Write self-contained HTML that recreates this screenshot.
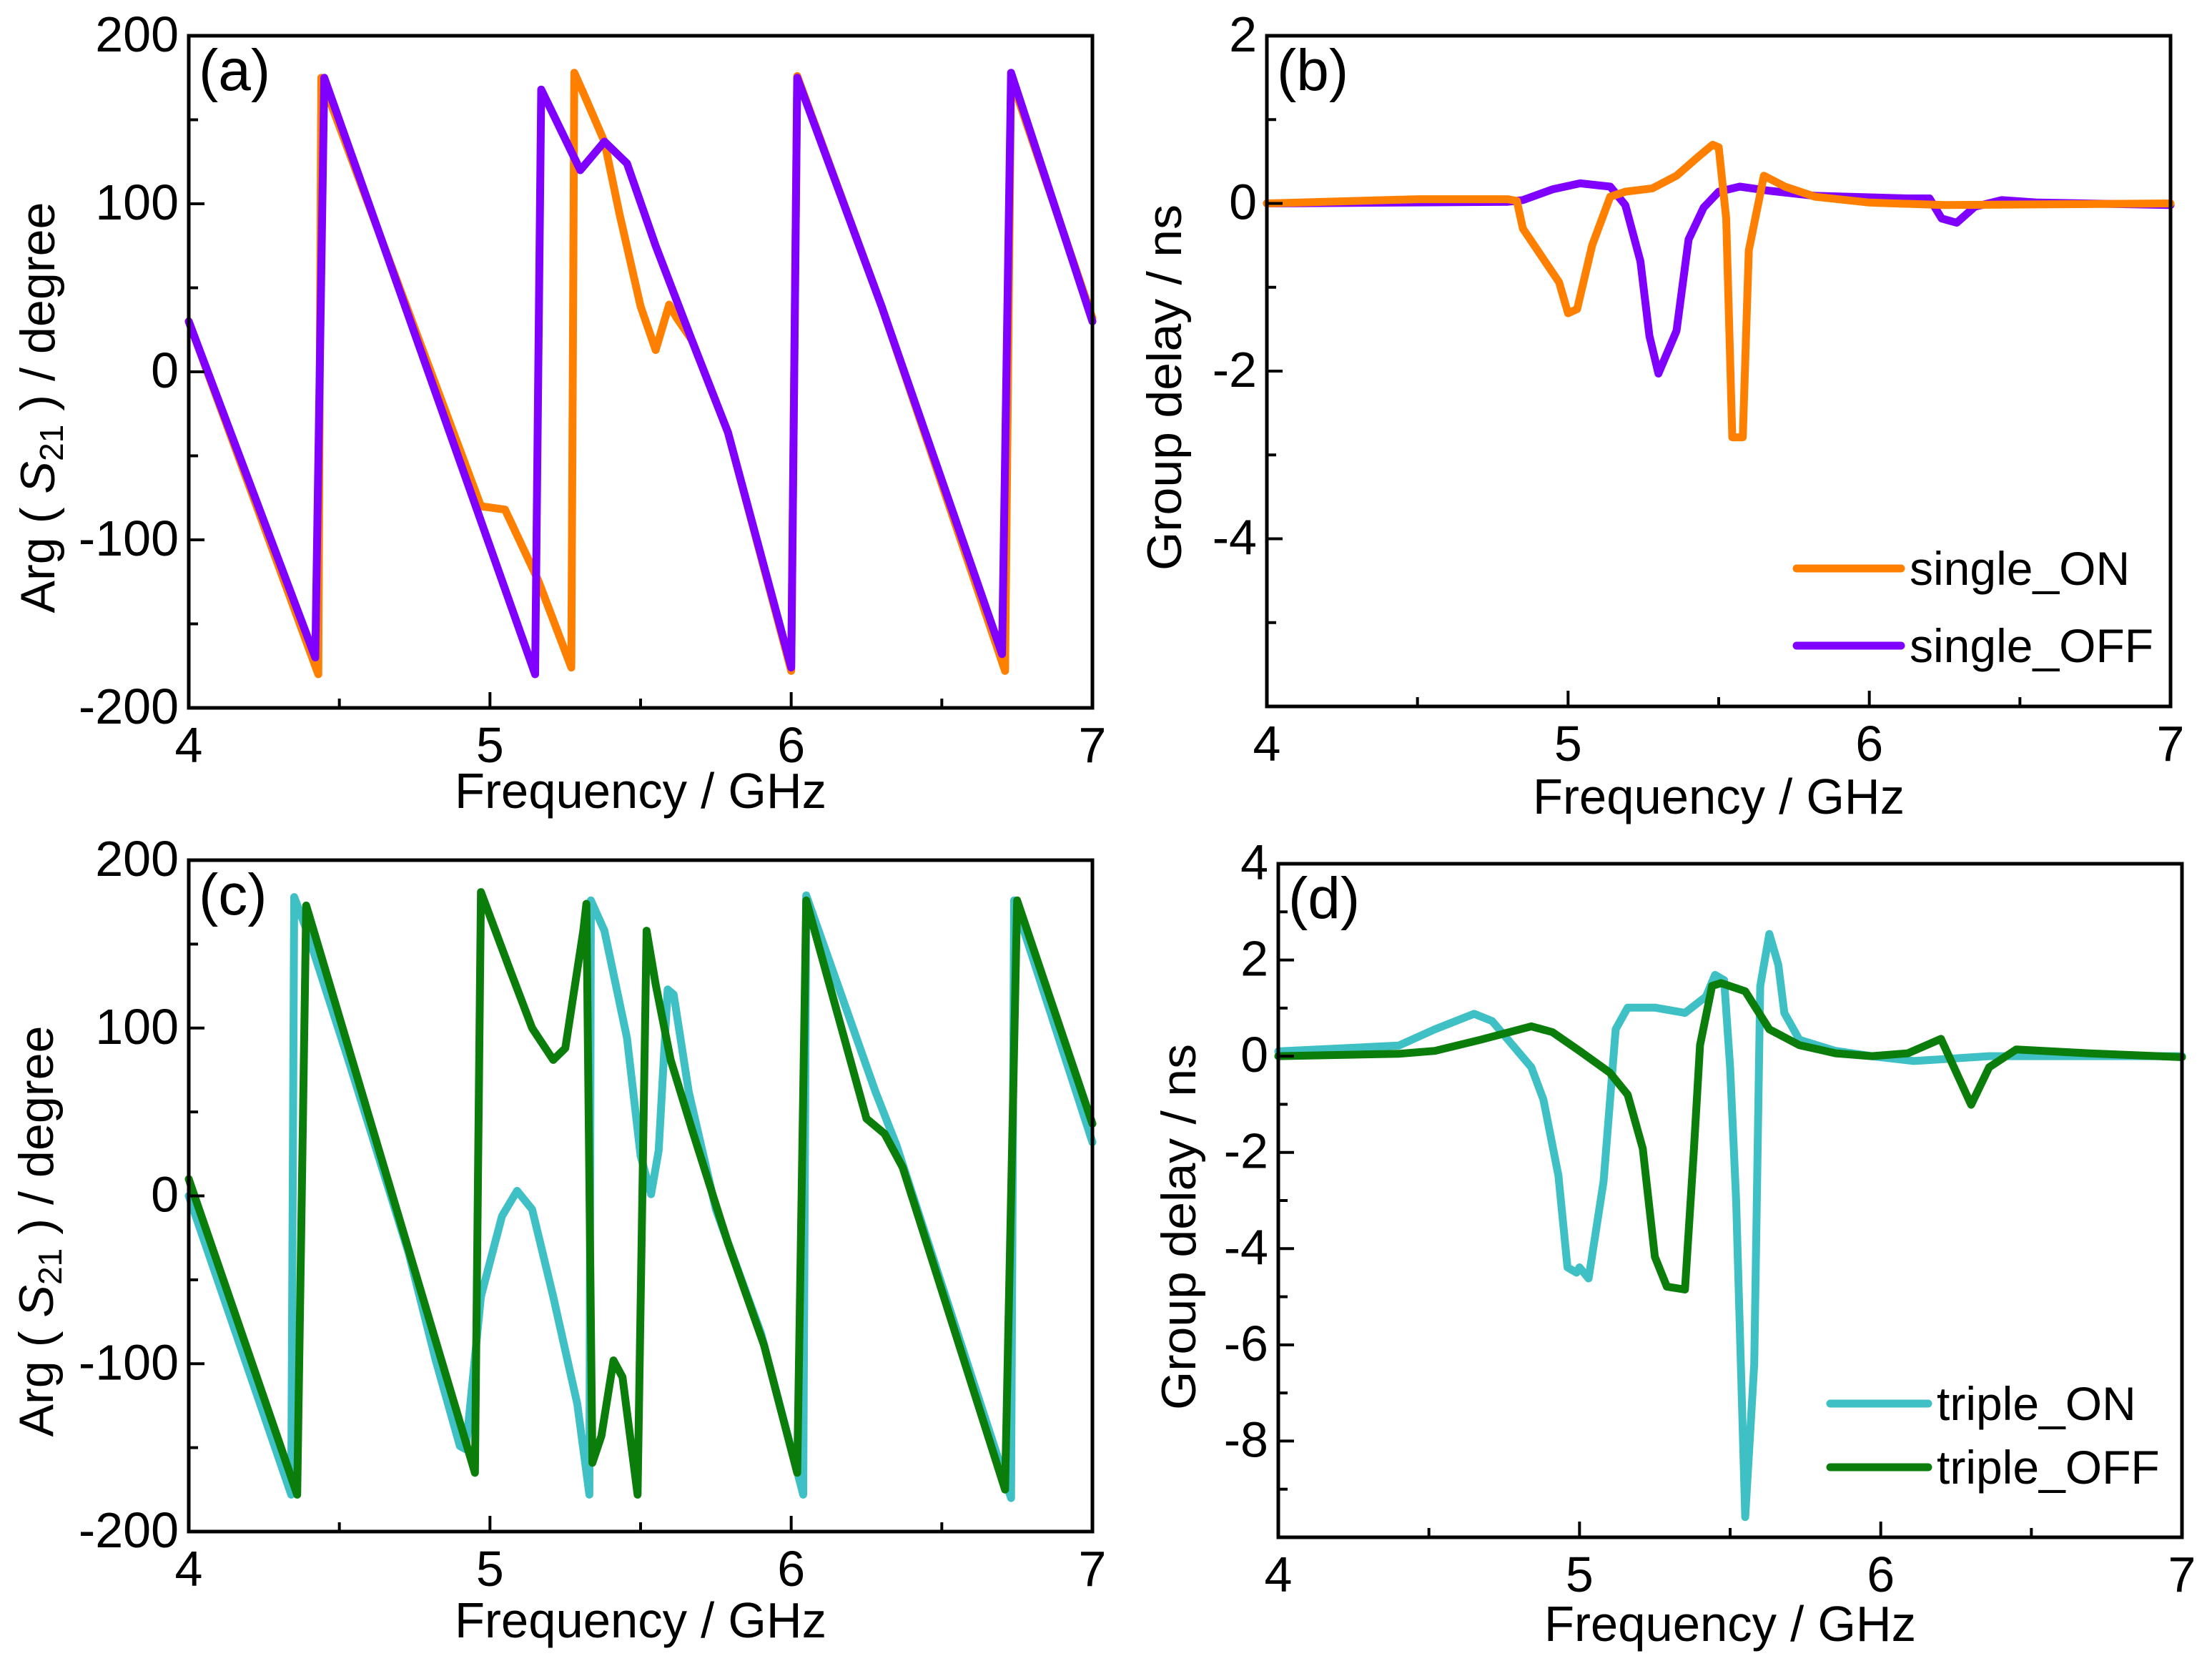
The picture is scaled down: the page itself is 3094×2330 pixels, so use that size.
<!DOCTYPE html>
<html><head><meta charset="utf-8"><style>
html,body{margin:0;padding:0;background:#fff}
svg{display:block}
text{font-family:"Liberation Sans",sans-serif;fill:#000}
</style></head><body>
<svg id="fig" width="3094" height="2330" viewBox="0 0 3094 2330" xmlns="http://www.w3.org/2000/svg"></svg>
<script>
// ---- data (frequency GHz, value) ----
const aOnX  = [4,4.43,4.44,4.97,5.05,5.16,5.27,5.28,5.31,5.38,5.43,5.50,5.55,5.595,5.62,5.67,5.79,6.0,6.02,6.30,6.71,6.73,7];
const aOnY  = [30,-180,175,-80,-82,-124,-176,178,166,137,94,39,13,40,32,19,-36,-178,176,39,-178,175,32];
const aOffX = [4,4.42,4.45,5.15,5.17,5.30,5.38,5.455,5.55,5.67,5.79,6.0,6.02,6.30,6.70,6.73,7];
const aOffY = [30,-170,175,-180,168,120,137,124,75,19,-36,-176,175,39,-168,178,30];

const bOnX  = [4,4.5,4.8,4.83,4.85,4.97,5.0,5.03,5.08,5.14,5.19,5.28,5.36,5.43,5.48,5.50,5.525,5.545,5.58,5.60,5.65,5.72,5.82,6.0,6.25,7];
const bOnY  = [0,0.05,0.05,0.03,-0.3,-0.94,-1.31,-1.26,-0.5,0.08,0.14,0.18,0.33,0.55,0.70,0.67,-0.18,-2.79,-2.79,-0.56,0.33,0.2,0.08,0.01,-0.02,0];
const bOffX = [4,4.8,4.85,4.95,5.04,5.14,5.19,5.24,5.27,5.30,5.36,5.40,5.45,5.50,5.57,5.67,5.82,6.13,6.2,6.24,6.29,6.35,6.44,6.56,7];
const bOffY = [0,0.02,0.04,0.17,0.24,0.2,-0.02,-0.69,-1.58,-2.03,-1.52,-0.43,-0.05,0.14,0.2,0.15,0.09,0.06,0.06,-0.18,-0.23,-0.04,0.04,0.01,-0.02];

const cOnX  = [4,4.34,4.35,4.39,4.53,4.73,4.82,4.90,4.92,4.97,5.04,5.09,5.14,5.21,5.29,5.33,5.335,5.38,5.455,5.50,5.535,5.56,5.59,5.61,5.66,5.75,5.90,6.04,6.05,6.28,6.35,6.73,6.74,7];
const cOnY  = [0,-178,178,159,81,-34,-98,-149,-151,-60,-12,3,-8,-60,-124,-178,176,158,94,24,1,27,123,120,62,-8,-82,-178,179,62,30,-180,176,32];
const cOffX = [4,4.36,4.39,4.95,4.97,5.07,5.14,5.21,5.25,5.31,5.32,5.34,5.37,5.41,5.44,5.49,5.52,5.55,5.60,5.67,5.79,5.91,6.02,6.05,6.25,6.31,6.37,6.71,6.75,7];
const cOffY = [10,-178,173,-165,181,133,100,81,88,158,174,-159,-143,-98,-108,-178,158,126,81,40,-28,-89,-165,176,46,37,17,-175,176,43];

const dOnX  = [4,4.4,4.52,4.65,4.71,4.84,4.88,4.93,4.96,4.99,5.0,5.03,5.08,5.12,5.16,5.25,5.35,5.42,5.45,5.48,5.50,5.52,5.55,5.58,5.60,5.63,5.66,5.68,5.73,5.85,5.97,6.11,6.21,6.36,7];
const dOnY  = [0.1,0.22,0.56,0.88,0.73,-0.23,-0.9,-2.48,-4.39,-4.5,-4.39,-4.62,-2.6,0.56,1.01,1.01,0.9,1.24,1.69,1.58,-0.23,-3.0,-9.58,-6.4,1.46,2.54,1.9,0.9,0.34,0.11,0,-0.1,-0.06,0,0];
const dOffX = [4,4.4,4.52,4.67,4.84,4.91,5.0,5.10,5.16,5.21,5.25,5.29,5.35,5.38,5.40,5.44,5.47,5.55,5.63,5.73,5.85,5.97,6.09,6.20,6.30,6.36,6.45,6.69,7];
const dOffY = [0,0.05,0.11,0.34,0.62,0.5,0.11,-0.34,-0.8,-1.92,-4.17,-4.79,-4.85,-1.92,0.23,1.46,1.52,1.35,0.56,0.23,0.06,0,0.06,0.36,-1.01,-0.23,0.14,0.06,-0.02];

const xTicks = [4,5,6,7];
const phaseTicks = [-200,-100,0,100,200];
const bTicks = [-4,-2,0,2];
const dTicks = [-8,-6,-4,-2,0,2,4];

const NS='http://www.w3.org/2000/svg';
const svg=document.getElementById('fig');
function el(tag,attrs,parent){const e=document.createElementNS(NS,tag);for(const k in attrs)e.setAttribute(k,attrs[k]);(parent||svg).appendChild(e);return e;}

function panel(p){
  const g=el('g',{});
  
  
  const sx=v=>p.L+(v-4)/3*(p.R-p.L);
  const sy=v=>p.B-(v-p.ymin)/(p.ymax-p.ymin)*(p.B-p.T);
  p.series.forEach(s=>{
    const pts=s.x.map((xv,i)=>sx(xv).toFixed(1)+','+sy(s.y[i]).toFixed(1)).join(' ');
    const pl=el('polyline',{points:pts,fill:'none',stroke:s.color,'stroke-width':11,'stroke-linejoin':'round','stroke-linecap':'round'},g);
    
    
  });
  const fr=el('rect',{x:p.L,y:p.T,width:p.R-p.L,height:p.B-p.T,fill:'none',stroke:'#000','stroke-width':5},g);
  
  
  for(let v=4;v<=7.001;v+=0.5){
    const major=Math.abs(v-Math.round(v))<1e-6;
    el('line',{x1:sx(v),x2:sx(v),y1:p.B,y2:p.B-(major?22:13),stroke:'#000','stroke-width':4},g);
  }
  xTicks.forEach(v=>{
    const t=el('text',{x:sx(v),y:p.B+76,'font-size':70,'text-anchor':'middle'},g);
    t.textContent=v;
    
    
  });
  for(let v=p.ymin;v<=p.ymax+1e-6;v+=p.minor){
    const major=p.yTicks.some(t=>Math.abs(t-v)<1e-6);
    el('line',{x1:p.L,x2:p.L+(major?22:13),y1:sy(v),y2:sy(v),stroke:'#000','stroke-width':4},g);
  }
  p.yTicks.forEach(v=>{
    const t=el('text',{x:p.L-14,y:sy(v)+22,'font-size':70,'text-anchor':'end'},g);
    t.textContent=v;
    
    
  });
  const xt=el('text',{x:(p.L+p.R)/2,y:p.xtY,'font-size':70,'text-anchor':'middle',textLength:520,lengthAdjust:'spacingAndGlyphs'},g);
  xt.textContent='Frequency / GHz';
  
  
  const yt=el('text',{transform:`translate(${p.ytX},${p.ytY}) rotate(-90)`,'font-size':68,'text-anchor':'middle',textLength:p.ytLen,lengthAdjust:'spacingAndGlyphs'},g);
  if(p.phase){
    yt.innerHTML='Arg ( <tspan font-style="italic">S</tspan><tspan font-size="46" dy="12">21</tspan><tspan dy="-12"> ) / degree</tspan>';
  } else yt.textContent='Group delay / ns';
  
  
  const pt=el('text',{x:p.L+14,y:p.T+76,'font-size':82},g);
  pt.textContent=p.letter;
  
  
  if(p.legend){
    p.legend.forEach((lg,i)=>{
      const y=p.legY[i];
      const ln=el('line',{x1:p.legX1,x2:p.legX2,y1:y,y2:y,stroke:lg.color,'stroke-width':11,'stroke-linecap':'round'},g);
      
      
      const tx=el('text',{x:p.legX2+12,y:y+23,'font-size':66},g);
      tx.textContent=lg.label;
      
      
    });
  }
}

panel({name:'panel-a',letter:'(a)',L:264,R:1528,T:50,B:990,ymin:-200,ymax:200,minor:50,yTicks:phaseTicks,phase:true,
  xtY:1130,ytX:76,ytY:570,ytLen:575,
  series:[{name:'single-on-line',x:aOnX,y:aOnY,color:'#FF8000'},{name:'single-off-line',x:aOffX,y:aOffY,color:'#8000FF'}]});
panel({name:'panel-b',letter:'(b)',L:1772,R:3036,T:50,B:988,ymin:-6,ymax:2,minor:1,yTicks:bTicks,phase:false,
  xtY:1138,ytX:1652,ytY:542,ytLen:512,
  legend:[{label:'single_ON',color:'#FF8000'},{label:'single_OFF',color:'#8000FF'}],legX1:2513,legX2:2659,legY:[795,903],
  series:[{name:'single-off-line',x:bOffX,y:bOffY,color:'#8000FF'},{name:'single-on-line',x:bOnX,y:bOnY,color:'#FF8000'}]});
panel({name:'panel-c',letter:'(c)',L:264,R:1528,T:1203,B:2142,ymin:-200,ymax:200,minor:50,yTicks:phaseTicks,phase:true,
  xtY:2290,ytX:74,ytY:1722,ytLen:575,
  series:[{name:'triple-on-line',x:cOnX,y:cOnY,color:'#3EC0C4'},{name:'triple-off-line',x:cOffX,y:cOffY,color:'#0B7D0B'}]});
panel({name:'panel-d',letter:'(d)',L:1788,R:3052,T:1208,B:2150,ymin:-10,ymax:4,minor:1,yTicks:dTicks,phase:false,
  xtY:2295,ytX:1672,ytY:1716,ytLen:512,
  legend:[{label:'triple_ON',color:'#3EC0C4'},{label:'triple_OFF',color:'#0B7D0B'}],legX1:2560,legX2:2697,legY:[1963,2052],
  series:[{name:'triple-on-line',x:dOnX,y:dOnY,color:'#3EC0C4'},{name:'triple-off-line',x:dOffX,y:dOffY,color:'#0B7D0B'}]});
</script>
</body></html>
